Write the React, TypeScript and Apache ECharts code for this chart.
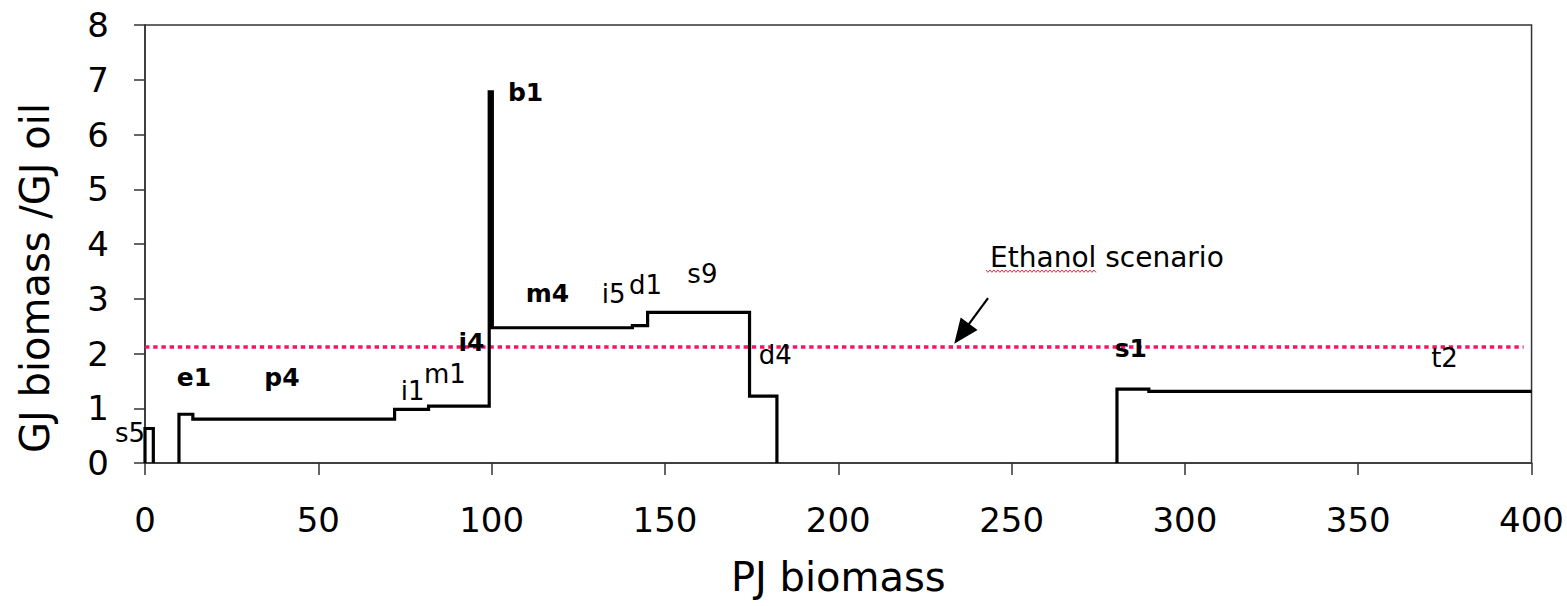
import React, { useEffect, useRef } from "react";
import * as echarts from "echarts";

const FONT = "DejaVu Sans";

// Supply curve steps: segment start (PJ), segment end (PJ), level (GJ biomass / GJ oil)
const segStart = [0, 9.8, 13.8, 72, 81.8, 99.3, 100.2, 140.6, 145, 174.4, 280.4, 289.6];
const segEnd = [2.4, 13.8, 72, 81.8, 99.3, 100.2, 140.6, 145, 174.4, 182.3, 289.6, 400];
const segLevel = [0.63, 0.89, 0.8, 0.98, 1.04, 6.78, 2.47, 2.51, 2.75, 1.22, 1.35, 1.31];

// Option codes written next to the steps
const codeNames = ["s5", "e1", "p4", "i1", "m1", "i4", "b1", "m4", "i5", "d1", "s9", "d4", "s1", "t2"];
const codeX = [-4.3, 14.1, 39.5, 77.2, 86.5, 94.2, 109.8, 116.1, 135.2, 144.4, 160.8, 181.8, 284.4, 374.9];
const codeY = [0.54, 1.57, 1.57, 1.31, 1.62, 2.2, 6.76, 3.1, 3.08, 3.25, 3.45, 1.97, 2.1, 1.92];
const codeBold = [false, true, true, false, false, true, true, true, false, false, false, false, true, false];

// Ethanol scenario reference level and its annotation
const scenarioLevel = 2.12;
const scenarioStart = 0;
const scenarioEnd = 397.7;
const scenarioText = "Ethanol scenario";
const scenarioTextAt = [277.5, 3.76];
const arrowFrom = [243.2, 3.01];
const arrowTo = [235.6, 2.36];

// Axes
const xMin = 0;
const xMax = 400;
const xStep = 50;
const yMin = 0;
const yMax = 8;
const yStep = 1;
const xTitle = "PJ biomass";
const yTitle = "GJ biomass /GJ oil";

function buildStepPoints(): (number | string)[][] {
  const pts: (number | string)[][] = [];
  for (let i = 0; i < segStart.length; i++) {
    const s = segStart[i];
    const e = segEnd[i];
    const v = segLevel[i];
    const joined = i > 0 && Math.abs(s - segEnd[i - 1]) < 1e-9;
    if (!joined) {
      if (i > 0) {
        const pe = segEnd[i - 1];
        pts.push([pe, 0]);
        pts.push([(pe + s) / 2, "-"]);
      }
      pts.push([s, 0]);
    }
    pts.push([s, v]);
    pts.push([e, v]);
  }
  const last = segEnd[segEnd.length - 1];
  if (last < xMax) pts.push([last, 0]);
  return pts;
}

export default function App() {
  const ref = useRef<HTMLDivElement>(null);

  useEffect(() => {
    if (!ref.current) return;
    const chart = echarts.init(ref.current, null, { renderer: "svg" });

    const axisColor = "#333333";

    chart.setOption({
      animation: false,
      backgroundColor: "#ffffff",
      grid: {
        left: 145,
        right: 34,
        top: 25,
        bottom: 143,
        show: true,
        borderColor: axisColor,
        borderWidth: 1.5,
        backgroundColor: "transparent",
      },
      xAxis: {
        type: "value",
        min: xMin,
        max: xMax,
        interval: xStep,
        name: xTitle,
        nameLocation: "middle",
        nameGap: 94,
        nameTextStyle: { fontFamily: FONT, fontSize: 40, color: "#000" },
        splitLine: { show: false },
        axisLine: { show: true, onZero: false, lineStyle: { color: axisColor, width: 1.5 } },
        axisTick: { show: true, inside: false, length: 12, lineStyle: { color: axisColor, width: 1.5 } },
        axisLabel: { fontFamily: FONT, fontSize: 34, color: "#000", margin: 40 },
      },
      yAxis: {
        type: "value",
        min: yMin,
        max: yMax,
        interval: yStep,
        splitLine: { show: false },
        axisLine: { show: true, onZero: false, lineStyle: { color: axisColor, width: 1.5 } },
        axisTick: { show: true, inside: false, length: 11, lineStyle: { color: axisColor, width: 1.5 } },
        axisLabel: { fontFamily: FONT, fontSize: 34, color: "#000", margin: 36 },
      },
      graphic: [
        {
          type: "text",
          id: "ytitle",
          x: 35,
          y: 278,
          rotation: Math.PI / 2,
          style: {
            text: yTitle,
            fontFamily: FONT,
            fontSize: 40,
            fill: "#000",
            align: "center",
            verticalAlign: "middle",
          },
        },
      ],
      series: [
        {
          name: "scenario",
          type: "line",
          silent: true,
          showSymbol: false,
          symbol: "none",
          data: [
            [scenarioStart, scenarioLevel],
            [scenarioEnd, scenarioLevel],
          ],
          lineStyle: { color: "#ff0f6a", width: 3.4, type: [4.4, 3.8], cap: "butt" },
          z: 2,
          markLine: {
            silent: true,
            symbol: ["none", "triangle"],
            symbolSize: [21, 25],
            label: { show: false },
            lineStyle: { color: "#000", width: 2.2, type: "solid" },
            data: [[{ coord: arrowFrom }, { coord: arrowTo }]],
            z: 5,
          },
        },
        {
          name: "supply",
          type: "line",
          silent: true,
          showSymbol: false,
          symbol: "none",
          connectNulls: false,
          data: buildStepPoints(),
          lineStyle: { color: "#000", width: 3.2, join: "miter", cap: "butt" },
          z: 3,
        },
        {
          name: "codes",
          type: "scatter",
          silent: true,
          clip: false,
          symbolSize: 0,
          itemStyle: { color: "#000", opacity: 1 },
          data: [
            ...codeNames.map((n, i) => ({
              name: n,
              value: [codeX[i], codeY[i]],
              label: {
                fontWeight: codeBold[i] ? "bold" : "normal",
                fontSize: codeBold[i] ? 25 : 26,
              },
            })),
            {
              name: scenarioText,
              value: scenarioTextAt,
              label: { fontWeight: "normal", fontSize: 28 },
            },
          ],
          label: {
            show: true,
            position: "inside",
            formatter: "{b}",
            fontFamily: FONT,
            color: "#000000",
            opacity: 1,
            textBorderWidth: 0,
          },
          emphasis: { disabled: true },
          z: 6,
        },
      ],
    });

    // wavy proofing underline beneath the first word of the annotation
    const c = chart.convertToPixel({ gridIndex: 0 }, scenarioTextAt) as number[];
    if (c) {
      const x0 = c[0] - 121;
      const x1 = c[0] - 11;
      const y0 = c[1] + 14;
      const pts: number[][] = [];
      let k = 0;
      for (let x = x0; x <= x1; x += 2) {
        pts.push([x, y0 + (k % 2 === 0 ? -1.2 : 1.2)]);
        k++;
      }
      chart.setOption({
        graphic: [
          {
            type: "polyline",
            id: "squiggle",
            shape: { points: pts },
            style: { stroke: "#e8303c", lineWidth: 1, fill: "none" },
            z: 10,
          },
        ],
      });
    }

    return () => chart.dispose();
  }, []);

  return (
    <div
      ref={ref}
      style={{ position: "fixed", left: 0, top: 0, width: 1567, height: 606, background: "#fff" }}
    />
  );
}
